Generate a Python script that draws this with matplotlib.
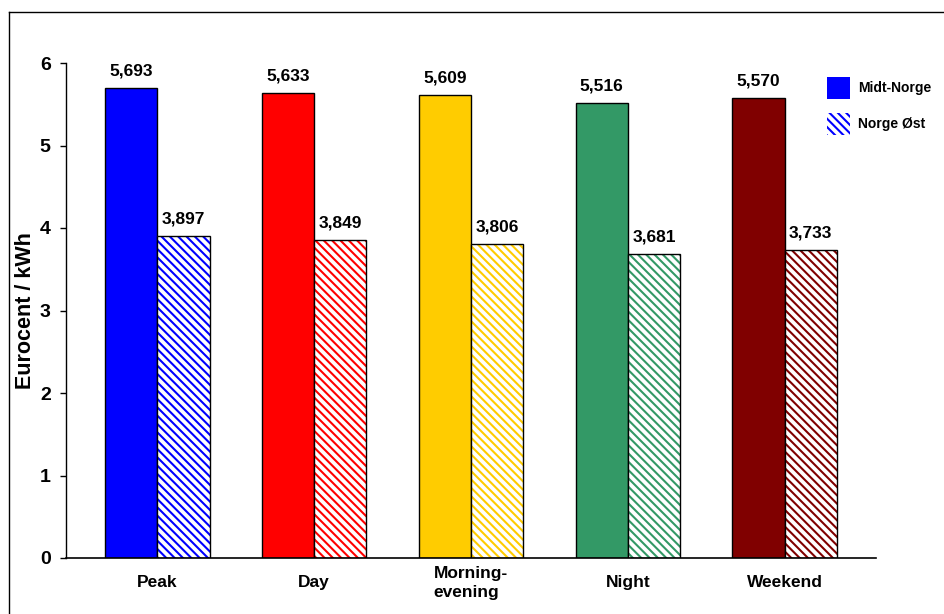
import numpy as np
import matplotlib
matplotlib.use("Agg")
import matplotlib.pyplot as plt
from matplotlib.patches import Patch
from matplotlib.lines import Line2D

plt.rcParams['font.family'] = ['Liberation Sans', 'DejaVu Sans']
plt.rcParams['font.weight'] = 'bold'
plt.rcParams['hatch.linewidth'] = 1.5

# prices per tariff period, eurocent / kWh
categories = ['Peak', 'Day', 'Morning-\nevening', 'Night', 'Weekend']
midt_norge = [5.693, 5.633, 5.609, 5.516, 5.570]
norge_ost = [3.897, 3.849, 3.806, 3.681, 3.733]
series_names = ['Midt-Norge', 'Norge Øst']
colors = ['#0000FF', '#FF0000', '#FFCC00', '#339966', '#800000']

HATCH = '\\\\\\\\'

fig = plt.figure(figsize=(9.44, 6.14), dpi=100)
ax = fig.add_axes([66 / 944, 1 - 558 / 614, (876 - 66) / 944, (558 - 63) / 614])

x = np.arange(len(categories))
w = 1 / 3

# solid bars
ax.bar(x - w / 2, midt_norge, w, color=colors, edgecolor='black', linewidth=1.0, zorder=2)
# hatched bars: hatch in the series colour, black outline drawn on top
ax.bar(x + w / 2, norge_ost, w, color='white', edgecolor=colors, hatch=HATCH,
       linewidth=0, zorder=2)
ax.bar(x + w / 2, norge_ost, w, fill=False, edgecolor='black', linewidth=1.0, zorder=3)


def fmt(v):
    return f"{v:.3f}".replace('.', ',')


for xi, v in zip(x - w / 2, midt_norge):
    ax.annotate(fmt(v), (xi, v), xytext=(0, 9), textcoords='offset points',
                ha='center', va='baseline', fontsize=12.5, fontweight='bold')
for xi, v in zip(x + w / 2, norge_ost):
    ax.annotate(fmt(v), (xi, v), xytext=(0, 9), textcoords='offset points',
                ha='center', va='baseline', fontsize=12.5, fontweight='bold')

ax.set_xlim(-0.583, len(categories) - 1 + 0.583)
ax.set_ylim(0, 6)
ax.set_yticks(range(0, 7))
ax.tick_params(axis='y', direction='out', length=4.5, width=1, labelsize=14, pad=6.5)
ax.set_xticks(x)
ax.set_xticklabels([])
ax.tick_params(axis='x', length=0)
for xi, lab in zip(x, categories):
    ax.text(xi, -0.30, lab, ha='center', va='center', fontsize=12.5, fontweight='bold',
            multialignment='left', linespacing=1.3)

ax.spines['top'].set_visible(False)
ax.spines['right'].set_visible(False)
ax.spines['left'].set_linewidth(1.0)
ax.spines['bottom'].set_linewidth(1.2)
fig.text(26 / 944, 1 - 311 / 614, 'Eurocent / kWh', rotation=90, ha='center', va='center',
         fontsize=15.5, fontweight='bold')

handles = [Patch(facecolor=colors[0], edgecolor='none'),
           Patch(facecolor='white', edgecolor=colors[0], hatch=HATCH, linewidth=0)]
fig.legend(handles, series_names, loc='upper left', bbox_to_anchor=(816 / 944, 1 - 66 / 614),
           frameon=False, fontsize=10, handlelength=1.65, handleheight=2.0,
           handletextpad=0.6, labelspacing=1.05, borderpad=0.3)

# outer frame around the chart area
fig.add_artist(Line2D([9 / 944, 9 / 944], [0, 1 - 12 / 614], color='black', linewidth=1.0,
                      transform=fig.transFigure))
fig.add_artist(Line2D([9 / 944, 1], [1 - 12 / 614, 1 - 12 / 614], color='black', linewidth=1.0,
                      transform=fig.transFigure))

fig.savefig('out.png', dpi=100)
